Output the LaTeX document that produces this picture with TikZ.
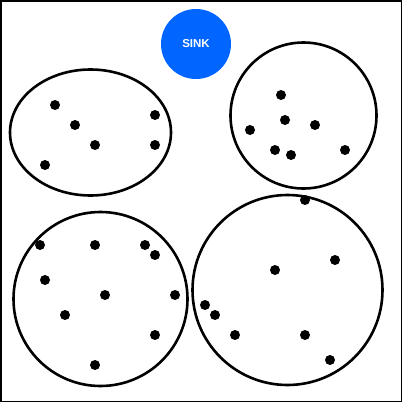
\documentclass[tikz,border=0pt]{standalone}
\usepackage{fontspec}
\setmainfont{Liberation Sans}
\definecolor{sinkblue}{RGB}{0,102,255}
\tikzset{
  cluster/.style={draw=black, line width=2.6pt},
  sensor/.style={circle, fill=black, inner sep=0pt, minimum size=10pt},
  sinknode/.style={circle, fill=sinkblue, inner sep=0pt, minimum size=70pt, text=white, font=\bfseries\fontsize{11.5}{12}\selectfont}
}
\begin{document}
\begin{tikzpicture}[x=1pt,y=-1pt]
\useasboundingbox (0,0) rectangle (402,402);
\draw[line width=1.5pt] (0.75,0.75) rectangle (401.25,401.25);
\node[sinknode] (sink) at (196,44) {SINK};
% clusters
\draw[cluster] (90.5,132.5) ellipse [x radius=80.5pt, y radius=63pt];
\draw[cluster] (303.5,115.5) circle [radius=73pt];
\draw[cluster] (100.5,299) circle [radius=87pt];
\draw[cluster] (287.5,290) circle [radius=95pt];
% cluster 1
\node[sensor] (a1) at (55,105) {};
\node[sensor] (a2) at (75,125) {};
\node[sensor] (a3) at (95,145) {};
\node[sensor] (a4) at (45,165) {};
\node[sensor] (a5) at (155,115) {};
\node[sensor] (a6) at (155,145) {};
% cluster 2
\node[sensor] (b1) at (281,95) {};
\node[sensor] (b2) at (285,120) {};
\node[sensor] (b3) at (315,125) {};
\node[sensor] (b4) at (250,130) {};
\node[sensor] (b5) at (275,150) {};
\node[sensor] (b6) at (291,155) {};
\node[sensor] (b7) at (345,150) {};
% cluster 3
\node[sensor] (c1) at (40,245) {};
\node[sensor] (c2) at (95,245) {};
\node[sensor] (c3) at (145,245) {};
\node[sensor] (c4) at (155,255) {};
\node[sensor] (c5) at (45,280) {};
\node[sensor] (c6) at (105,295) {};
\node[sensor] (c7) at (175,295) {};
\node[sensor] (c8) at (65,315) {};
\node[sensor] (c9) at (155,335) {};
\node[sensor] (c10) at (95,365) {};
% cluster 4
\node[sensor] (d1) at (305,200) {};
\node[sensor] (d2) at (335,260) {};
\node[sensor] (d3) at (275,270) {};
\node[sensor] (d4) at (205,305) {};
\node[sensor] (d5) at (215,315) {};
\node[sensor] (d6) at (235,335) {};
\node[sensor] (d7) at (305,335) {};
\node[sensor] (d8) at (330,360) {};
\end{tikzpicture}
\end{document}
